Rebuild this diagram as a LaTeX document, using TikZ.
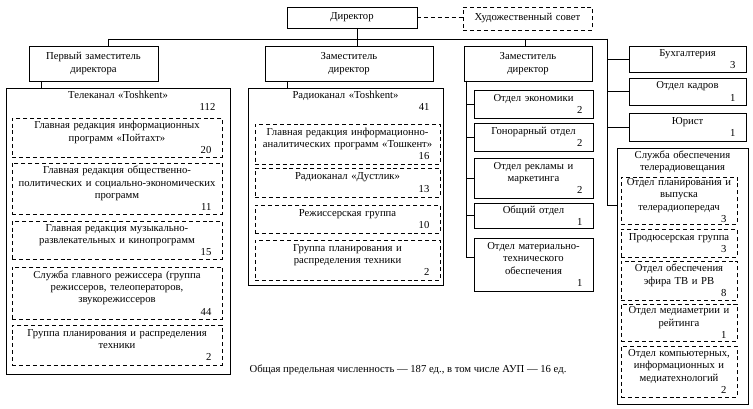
\documentclass[tikz,border=0pt]{standalone}
\usepackage{fontspec}
\setmainfont{Liberation Serif}
\usetikzlibrary{positioning}
\newcommand\staffnum[1]{\hspace*{0pt plus 1filll}#1\hbox to 7pt{}}

\begin{document}
\begin{tikzpicture}[
  x=0.75pt, y=-0.75pt,
  every node/.style={font=\fontsize{8}{9.2}\selectfont},
  wh/.style 2 args={minimum width=#1*0.75pt, minimum height=#2*0.75pt, text width=#1*0.75pt-2pt},
  unit/.style={rectangle, draw=black, line width=0.6pt, anchor=north west, align=center, inner xsep=1pt, inner ysep=1pt, outer sep=0pt},
  subunit/.style={unit, dash pattern=on 3pt off 2.2pt},
  title/.style={anchor=north, align=center, inner xsep=1pt, inner ysep=1pt},
  link/.style={line width=0.6pt},
  adlink/.style={link, dash pattern=on 3pt off 2.2pt},
]
\useasboundingbox (0,0) rectangle (753,409);

% ---- top ----
\node[unit, wh={130}{21}] (director) at (287,7) {Директор};
\node[subunit, wh={129}{23}] (artcouncil) at (463,7) {Художественный совет};

% ---- deputies ----
\node[unit, wh={129}{35}] (dep1) at (29,46)  {Первый заместитель\\директора};
\node[unit, wh={168}{35}] (dep2) at (265,46) {Заместитель\\директор};
\node[unit, wh={128}{35}] (dep3) at (464,46) {Заместитель\\директор};

% ---- right column ----
\node[unit, wh={117}{26}] (buh)    at (629,46)  {Бухгалтерия\\\staffnum{3}};
\node[unit, wh={117}{27}] (kadry)  at (629,78)  {Отдел кадров\\\staffnum{1}};
\node[unit, wh={117}{28}] (jurist) at (629,113) {Юрист\\\staffnum{1}};

% ---- TV channel ----
\node[unit, wh={224}{286}] (tv) at (6,88) {};
\node[title, text width=160pt, below=1pt of tv.north] (tvname) {Телеканал «Toshkent»\\\staffnum{112}};
\node[subunit, wh={210}{39}] (tv1) at (12,118) {Главная редакция информационных\\программ «Пойтахт»\\\staffnum{20}};
\node[subunit, wh={210}{51}] (tv2) at (12,163) {Главная редакция общественно-\\политических и социально-экономических\\программ\\\staffnum{11}};
\node[subunit, wh={210}{38}] (tv3) at (12,221) {Главная редакция музыкально-\\развлекательных и кинопрограмм\\\staffnum{15}};
\node[subunit, wh={210}{52}] (tv4) at (12,267) {Служба главного режиссера (группа\\режиссеров, телеоператоров,\\звукорежиссеров\\\staffnum{44}};
\node[subunit, wh={210}{40}] (tv5) at (12,325) {Группа планирования и распределения\\техники\\\staffnum{2}};

% ---- radio channel ----
\node[unit, wh={195}{197}] (radio) at (248,88) {};
\node[title, text width=140pt, below=1pt of radio.north] (radioname) {Радиоканал «Toshkent»\\\staffnum{41}};
\node[subunit, wh={185}{40}] (rd1) at (255,124) {Главная редакция информационно-\\аналитических программ «Тошкент»\\\staffnum{16}};
\node[subunit, wh={185}{29}] (rd2) at (255,168) {Радиоканал «Дустлик»\\\staffnum{13}};
\node[subunit, wh={185}{28}] (rd3) at (255,205) {Режиссерская группа\\\staffnum{10}};
\node[subunit, wh={185}{40}] (rd4) at (255,240) {Группа планирования и\\распределения техники\\\staffnum{2}};

% ---- departments of deputy 3 ----
\node[unit, wh={119}{28}] (econ)   at (474,90)  {Отдел экономики\\\staffnum{2}};
\node[unit, wh={119}{28}] (fee)    at (474,123) {Гонорарный отдел\\\staffnum{2}};
\node[unit, wh={119}{40}] (advert) at (474,158) {Отдел рекламы и\\маркетинга\\\staffnum{2}};
\node[unit, wh={119}{25}] (general) at (474,203) {Общий отдел\\\staffnum{1}};
\node[unit, wh={119}{53}] (supply) at (474,238) {Отдел материально-\\технического\\обеспечения\\\staffnum{1}};

% ---- broadcasting service ----
\node[unit, wh={131}{256}] (service) at (617,148) {};
\node[title, text width=96pt, below=1pt of service.north] (servicename) {Служба обеспечения\\телерадиовещания};
\node[subunit, wh={116}{47}] (sv1) at (621,177) {Отдел планирования и\\выпуска\\телерадиопередач\\\staffnum{3}};
\node[subunit, wh={116}{28}] (sv2) at (621,229) {Продюсерская группа\\\staffnum{3}};
\node[subunit, wh={116}{39}] (sv3) at (621,261) {Отдел обеспечения\\эфира ТВ и РВ\\\staffnum{8}};
\node[subunit, wh={116}{37}] (sv4) at (621,304) {Отдел медиаметрии и\\рейтинга\\\staffnum{1}};
\node[subunit, wh={116}{51}] (sv5) at (621,346) {Отдел компьютерных,\\информационных и\\медиатехнологий\\\staffnum{2}};

% ---- total ----
\node (total) at (408,370) {Общая предельная численность — 187 ед., в том числе АУП — 16 ед.};

% ---- connectors ----
\coordinate (busL)  at (108,39);
\coordinate (trunk) at (357,39);
\coordinate (bus3)  at (525,39);
\coordinate (busR)  at (607,39);
\coordinate (spine) at ([xshift=1.5pt]dep3.south west);
\coordinate (svin)  at ([yshift=53pt]service.west);

\draw[adlink] (director.east) -- (artcouncil.west |- director.east);
\draw[link] (busL) -- (busR);
\draw[link] (busL) -- (busL |- dep1.north);
\draw[link] (trunk |- director.south) -- (trunk |- dep2.north);
\draw[link] (bus3) -- (bus3 |- dep3.north);
\draw[link] ([xshift=9pt]dep1.south west) -- ([xshift=9pt]dep1.south west |- tv.north);
\draw[link] ([xshift=16.5pt]dep2.south west) -- ([xshift=16.5pt]dep2.south west |- radio.north);

\draw[link] (busR) |- (buh.west);
\draw[link] (busR) |- (kadry.west);
\draw[link] (busR) |- (jurist.west);
\draw[link] (busR) |- (svin);

\draw[link] (spine) |- (econ.west);
\draw[link] (spine) |- (fee.west);
\draw[link] (spine) |- (advert.west);
\draw[link] (spine) |- (general.west);
\draw[link] (spine) |- ([yshift=5pt]supply.west);

\end{tikzpicture}
\end{document}
